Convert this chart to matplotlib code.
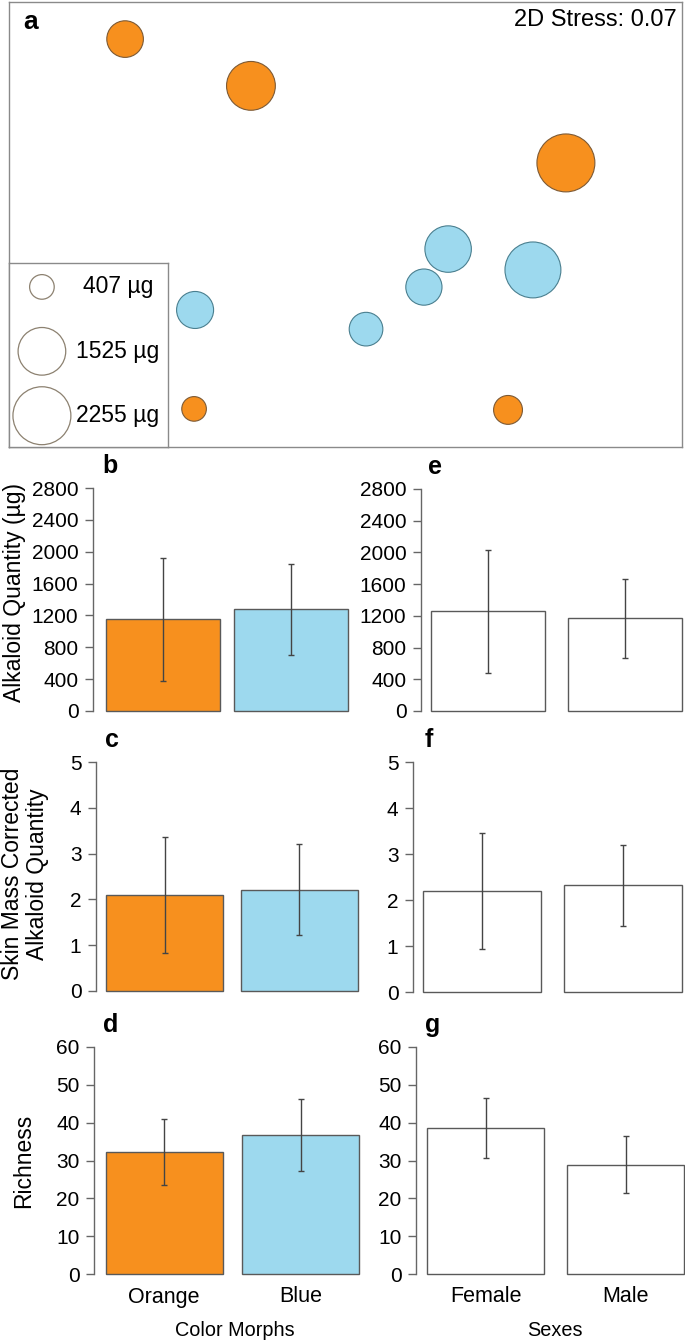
import matplotlib
matplotlib.use("Agg")
import matplotlib.pyplot as plt
import numpy as np

plt.rcParams['font.family'] = ['Liberation Sans', 'DejaVu Sans']

# ---------------- data ----------------
# panel a: NMDS ordination
nmds1 = [-0.655, -0.281, 0.655, 0.305, 0.557, 0.233, -0.447, 0.061, -0.450, 0.483]
nmds2 = [0.551, 0.412, 0.183, -0.073, -0.135, -0.186, -0.254, -0.311, -0.548, -0.551]
alkaloid_ug = [900, 1600, 2255, 1450, 2100, 880, 920, 760, 407, 560]
morph = ['Orange', 'Orange', 'Orange', 'Blue', 'Blue', 'Blue', 'Blue', 'Blue', 'Orange', 'Orange']
legend_ug = [407, 1525, 2255]
stress_2d = 0.07

morph_labels = ['Orange', 'Blue']
sex_labels = ['Female', 'Male']

quant_morph_mean = [1154, 1275]
quant_morph_sd = [773, 571]
quant_sex_mean = [1257, 1168]
quant_sex_sd = [773, 502]

corr_morph_mean = [2.09, 2.21]
corr_morph_sd = [1.27, 0.99]
corr_sex_mean = [2.20, 2.32]
corr_sex_sd = [1.265, 0.885]

rich_morph_mean = [32.3, 36.75]
rich_morph_sd = [8.8, 9.45]
rich_sex_mean = [38.6, 28.85]
rich_sex_sd = [8.0, 7.55]

# ---------------- style ----------------
W, H = 685, 1343
ORANGE = '#F7901E'
BLUE = '#9DD9EE'
GREY = '#666666'
colors = {'Orange': ORANGE, 'Blue': BLUE}
edges = {'Orange': '#7d5a35', 'Blue': '#4a7f8f'}

fig = plt.figure(figsize=(W / 100, H / 100), dpi=100)


def px_axes(x0, y0, x1, y1):
    return fig.add_axes([x0 / W, 1 - y1 / H, (x1 - x0) / W, (y1 - y0) / H])


def size_pts2(v):
    # circle area scaled to alkaloid quantity (radius ~ sqrt(value))
    r_px = 0.61 * np.sqrt(np.asarray(v, dtype=float))
    return (2 * r_px * 72 / 100) ** 2


# ---------------- panel a ----------------
axa = px_axes(9, 2, 682, 447)
half_x = 1.0
half_y = (447 - 2) / (682 - 9) * half_x
axa.set_xlim(-half_x, half_x)
axa.set_ylim(-half_y, half_y)
axa.set_xticks([])
axa.set_yticks([])
for s in axa.spines.values():
    s.set_color('#8a8a8a')
    s.set_linewidth(1.0)
axa.scatter(nmds1, nmds2, s=size_pts2(alkaloid_ug),
            c=[colors[m] for m in morph], edgecolors=[edges[m] for m in morph],
            linewidths=0.8, zorder=3)
fig.text(677 / W, 1 - 20 / H, f'2D Stress: {stress_2d:.2f}',
         ha='right', va='center', fontsize=17)
fig.text(31 / W, 1 - 22 / H, 'a', fontsize=19, fontweight='bold', ha='center', va='center')

# legend box
axl = px_axes(9, 263, 168, 447)
axl.set_xlim(0, 1)
axl.set_ylim(0, 1)
axl.set_xticks([])
axl.set_yticks([])
axl.set_facecolor('white')
for s in axl.spines.values():
    s.set_color('#8a8a8a')
    s.set_linewidth(1.0)
leg_y = [0.87, 0.52, 0.17]
axl.scatter([0.207] * 3, leg_y, s=size_pts2(legend_ug), facecolors='white',
            edgecolors='#8c8170', linewidths=0.9, zorder=3)
for yy, v in zip(leg_y, legend_ug):
    axl.text(0.685, yy, f'{v} µg', ha='center', va='center', fontsize=16.5)


# ---------------- bar panels ----------------
def bar_panel(spine, top, zero, c0, sp, wpx, right, labels, means, sds, ymax, nt,
              fills, letter, show_x):
    ax = px_axes(spine, top, right, zero)
    ax.set_xlim((spine - c0) / sp, (right - c0) / sp)
    ax.set_ylim(0, ymax)
    x = np.arange(len(labels))
    ax.bar(x, means, width=wpx / sp, color=fills, edgecolor='#595959',
           linewidth=1.0, clip_on=False, zorder=2)
    ax.errorbar(x, means, yerr=sds, fmt='none', ecolor='#444444', elinewidth=1.0,
                capsize=2.2, capthick=1.0, zorder=3, clip_on=False)
    for k in ['top', 'right', 'bottom']:
        ax.spines[k].set_visible(False)
    ax.spines['left'].set_color(GREY)
    ax.spines['left'].set_linewidth(1.0)
    ax.set_yticks(np.linspace(0, ymax, nt))
    ax.set_yticklabels([f'{t:g}' for t in np.linspace(0, ymax, nt)])
    ax.tick_params(axis='y', length=5.5, width=1.0, color=GREY, pad=5, labelsize=15)
    if show_x:
        ax.set_xticks(x)
        ax.set_xticklabels(labels)
        ax.tick_params(axis='x', length=0, pad=9, labelsize=15.5)
    else:
        ax.set_xticks([])
    ax.patch.set_alpha(0)
    fig.text((c0 - 53) / W, 1 - (top - 22) / H, letter, fontsize=18,
             fontweight='bold', ha='center', va='center')
    return ax


morph_fill = [ORANGE, BLUE]
white_fill = ['white', 'white']

bar_panel(93, 488, 711, 163, 128, 114, 360, morph_labels, quant_morph_mean,
          quant_morph_sd, 2800, 8, morph_fill, 'b', False)
bar_panel(96, 762, 991, 164.5, 134.5, 117, 360, morph_labels, corr_morph_mean,
          corr_morph_sd, 5, 6, morph_fill, 'c', False)
bar_panel(94, 1047, 1274, 164, 136.5, 117, 360, morph_labels, rich_morph_mean,
          rich_morph_sd, 60, 7, morph_fill, 'd', True)

bar_panel(421, 489, 711, 488, 137, 114, 685, sex_labels, quant_sex_mean,
          quant_sex_sd, 2800, 8, white_fill, 'e', False)
bar_panel(413, 762, 992, 482, 141, 118, 685, sex_labels, corr_sex_mean,
          corr_sex_sd, 5, 6, white_fill, 'f', False)
bar_panel(416, 1047, 1274, 485.5, 140, 117, 685, sex_labels, rich_sex_mean,
          rich_sex_sd, 60, 7, white_fill, 'g', True)

# axis titles
fig.text(15 / W, 1 - 592 / H, 'Alkaloid Quantity (µg)', rotation=90, fontsize=16.5,
         ha='center', va='center')
fig.text(25 / W, 1 - 874 / H, 'Skin Mass Corrected\nAlkaloid Quantity', rotation=90,
         fontsize=16.5, ha='center', va='center', multialignment='center', linespacing=1.15)
fig.text(24 / W, 1 - 1161 / H, 'Richness', rotation=90, fontsize=16.5,
         ha='center', va='center')
fig.text(235 / W, 1 - 1331 / H, 'Color Morphs', fontsize=14.3, ha='center', va='center')
fig.text(555 / W, 1 - 1331 / H, 'Sexes', fontsize=14.3, ha='center', va='center')

fig.savefig('out.png', dpi=100, facecolor='white')
